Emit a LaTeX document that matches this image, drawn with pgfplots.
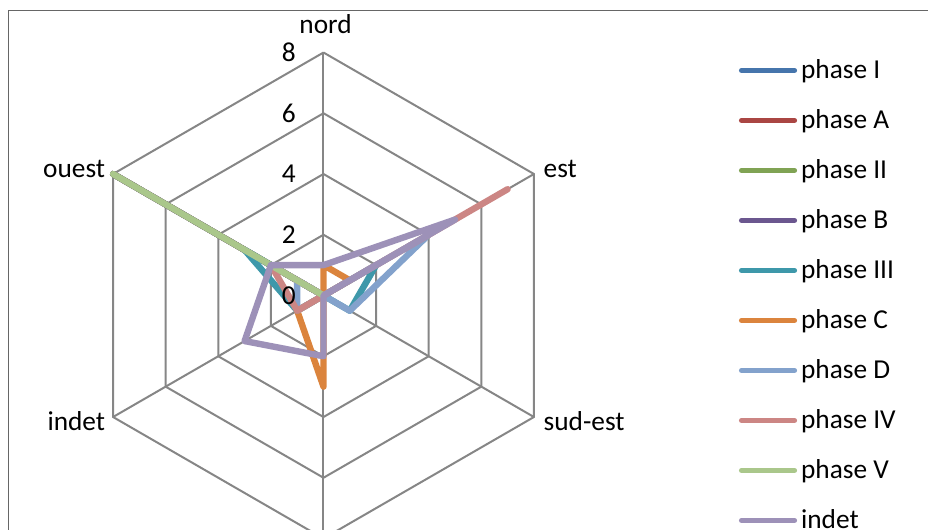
\documentclass[border=0pt]{standalone}
\usepackage{fontspec}
\setmainfont{Carlito}
\usepackage{pgfplots}
\usepackage{pgfplotstable}
\pgfplotsset{compat=1.18}

\definecolor{phI}{RGB}{70,117,172}
\definecolor{phA}{RGB}{170,70,67}
\definecolor{phII}{RGB}{128,163,84}
\definecolor{phB}{RGB}{107,87,143}
\definecolor{phIII}{RGB}{62,152,170}
\definecolor{phC}{RGB}{219,132,61}
\definecolor{phD}{RGB}{131,162,204}
\definecolor{phIV}{RGB}{204,134,132}
\definecolor{phV}{RGB}{170,199,139}
\definecolor{phind}{RGB}{157,145,184}
\definecolor{gridc}{RGB}{134,134,134}

% angle (nord, est, sud-est, sud, indet, ouest, back to nord) and one column per series
\pgfplotstableread{
angle pI pA pII pB pIII pC pD pIV pV ind
90    0  0  0   0  0    1  0  0   0  1
30    0  0  0   0  2    1  4  7   0  5
-30   0  0  0   0  1    0  1  0   0  0
-90   0  0  0   0  0    3  0  0   0  2
-150  0  0  0   0  1    1  1  1   0  3
150   8  8  8   8  3    0  1  2   8  2
90    0  0  0   0  0    1  0  0   0  1
}\radar

\pgfplotsset{
  radar/.style={data cs=polar, line width=4.8pt, line cap=round, line join=round},
  web/.style={data cs=polar, gridc, line width=1.5pt, forget plot},
}

\begin{document}
\begin{tikzpicture}
\useasboundingbox (0,0) rectangle (696pt,396.75pt);
\clip (0,0) rectangle (696pt,396.75pt);
\begin{axis}[
  at={(0,0)}, anchor=south west,
  x=22.78125pt, y=22.78125pt,
  xmin=-10.650, xmax=19.901, ymin=-7.687, ymax=9.728,
  hide axis,
  font=\fontsize{20.5}{24.6}\selectfont,
  legend cell align=left,
  legend style={
    at={(0.7963,0.887)}, anchor=north west,
    draw=none, fill=none, inner sep=0pt, outer sep=0pt,
    row sep=19.5pt, column sep=3pt,
    nodes={inner sep=0pt, text height=14pt, text depth=4pt},
    font=\fontsize{20.5}{24.6}\selectfont,
  },
  legend image code/.code={\draw[#1, line width=3.9pt, line cap=round] (1.9pt,1pt) -- (41.6pt,1pt);},
]

% hexagonal web
\pgfplotsinvokeforeach{2,4,6,8}{
  \addplot[web] coordinates {(90,#1) (30,#1) (-30,#1) (-90,#1) (-150,#1) (150,#1) (90,#1)};
}
\pgfplotsinvokeforeach{90,30,-30,-90,-150,150}{
  \addplot[web] coordinates {(#1,0) (#1,8)};
}

\addplot[radar, phI]   table[x=angle, y=pI]   {\radar}; \addlegendentry{phase I}
\addplot[radar, phA]   table[x=angle, y=pA]   {\radar}; \addlegendentry{phase A}
\addplot[radar, phII]  table[x=angle, y=pII]  {\radar}; \addlegendentry{phase II}
\addplot[radar, phB]   table[x=angle, y=pB]   {\radar}; \addlegendentry{phase B}
\addplot[radar, phIII] table[x=angle, y=pIII] {\radar}; \addlegendentry{phase III}
\addplot[radar, phC]   table[x=angle, y=pC]   {\radar}; \addlegendentry{phase C}
\addplot[radar, phD]   table[x=angle, y=pD]   {\radar}; \addlegendentry{phase D}
\addplot[radar, phIV]  table[x=angle, y=pIV]  {\radar}; \addlegendentry{phase IV}
\addplot[radar, phV]   table[x=angle, y=pV]   {\radar}; \addlegendentry{phase V}
\addplot[radar, phind] table[x=angle, y=ind]  {\radar}; \addlegendentry{indet}

% radial scale
\pgfplotsinvokeforeach{0,2,4,6,8}{
  \node[anchor=east, inner sep=0pt] at (axis cs:-0.905,#1) {#1};
}

% category labels (the bottom one lies below the visible area)
\node[anchor=base, inner sep=0pt] at (axis cs:0.07,8.64) {nord};
\node[anchor=base west, inner sep=0pt] at (axis cs:7.24,3.90) {est};
\node[anchor=base west, inner sep=0pt] at (axis cs:7.24,-4.46) {sud-est};
\node[anchor=base east, inner sep=0pt] at (axis cs:-7.18,-4.46) {indet};
\node[anchor=base east, inner sep=0pt] at (axis cs:-7.18,3.90) {ouest};

% chart frame
\draw[black!60, line width=0.75pt] (axis cs:-10.354,-12) rectangle (axis cs:25,9.38);
\end{axis}
\end{tikzpicture}
\end{document}
